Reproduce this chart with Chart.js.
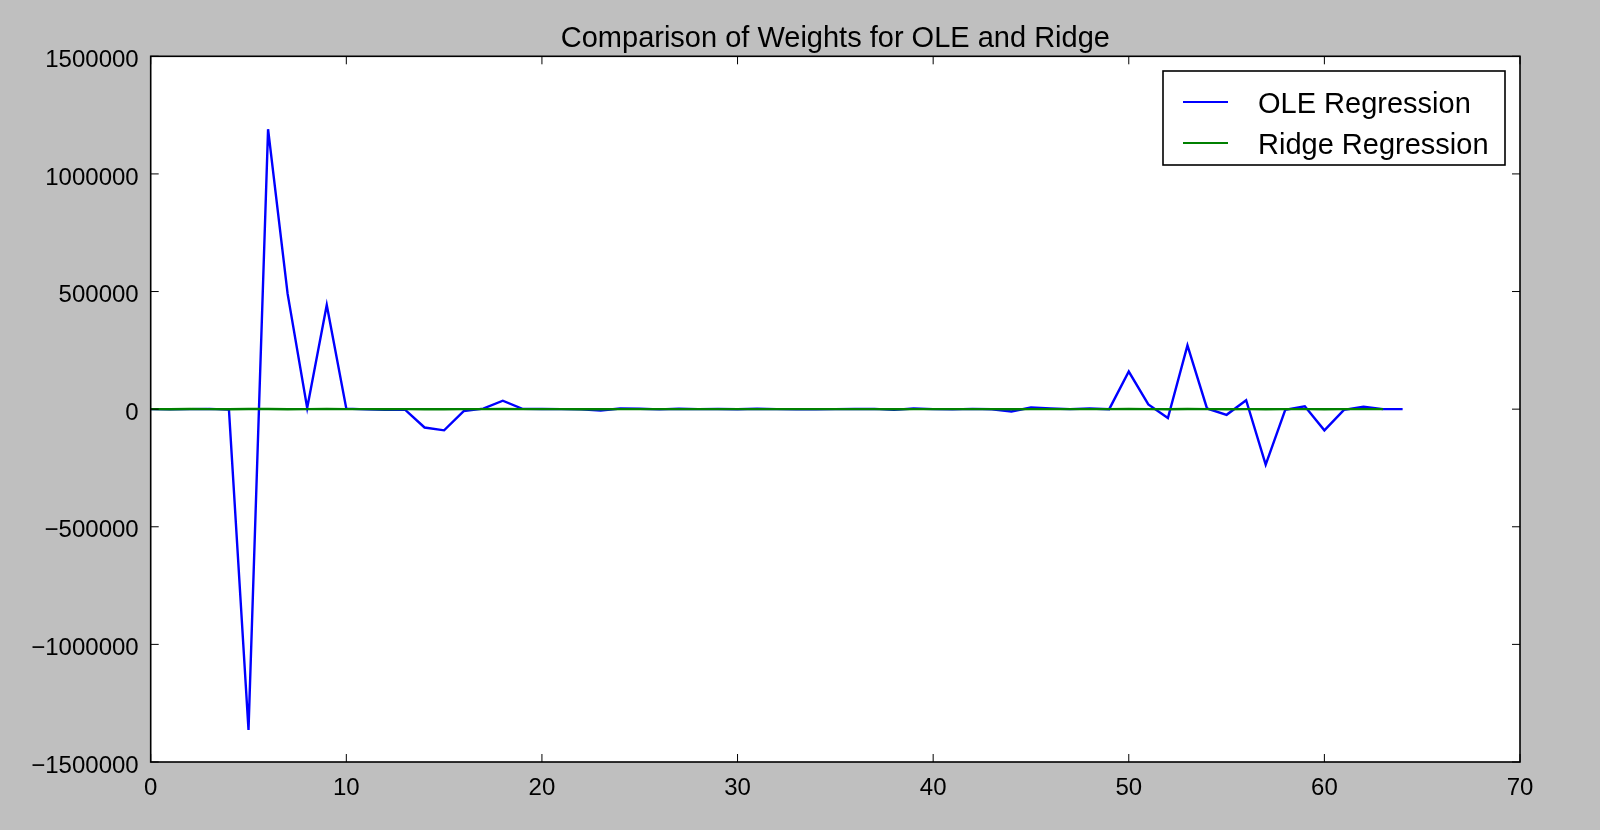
<!DOCTYPE html>
<html>
<head>
<meta charset="utf-8">
<title>Comparison of Weights for OLE and Ridge</title>
<script src="https://cdn.jsdelivr.net/npm/chart.js@4.4.1/dist/chart.umd.min.js"></script>
<style>
  html, body { margin: 0; padding: 0; background: #bfbfbf; }
  #wrap { width: 1600px; height: 830px; position: relative; }
</style>
</head>
<body>
<div id="wrap"><canvas id="myChart"></canvas></div>
<script>
// weights, index 0..64 (OLE) and 0..63 (Ridge)
const oleWeights = [
  0, -1000, 0, 1000, -2000, -1364000, 1190000, 490000, 5000, 443000,
  2000, -1000, -3000, -2000, -78000, -90000, -8000, 2000, 36000, 1000,
  500, 0, -1000, -6000, 3000, 2000, -1000, 2000, 0, 500,
  -500, 1500, 0, -1000, -500, 0, 500, 1000, -3000, 3000,
  0, -1000, 1000, -500, -10000, 7000, 3000, 0, 3000, 0,
  160000, 20000, -38000, 271000, 3000, -24000, 38000, -236000, -3000, 12000,
  -90000, -3000, 10000, 0, 0
];
const ridgeWeights = [
  200, -300, 400, 100, -500, 800, 600, -200, 300, 500,
  -100, 200, -300, 100, -400, -600, 200, 300, 400, -100,
  100, 0, -200, -300, 200, 100, -100, 200, 0, 100,
  -100, 200, 0, -100, 0, 100, 100, 200, -200, 200,
  0, -100, 100, 0, -300, 300, 100, 0, 200, 0,
  400, 200, -300, 500, 100, -200, 300, -400, -100, 200,
  -300, -100, 200, 0
];
const seriesLabels = ['OLE Regression', 'Ridge Regression'];
const xTicks = [0, 10, 20, 30, 40, 50, 60, 70];
const yTicks = [-1500000, -1000000, -500000, 0, 500000, 1000000, 1500000];

const FONT = '"Liberation Sans", Arial, Helvetica, sans-serif';

function toPoints(arr) {
  return arr.map((v, i) => ({ x: i, y: v }));
}

function fmt(v) {
  return v < 0 ? '\u2212' + Math.abs(v) : String(v);
}

// grey figure, white axes, black frame, inward ticks and the boxed legend
const mplLook = {
  id: 'mplLook',
  beforeDraw(chart) {
    const ctx = chart.ctx;
    const a = chart.chartArea;
    ctx.save();
    ctx.fillStyle = '#bfbfbf';
    ctx.fillRect(0, 0, chart.width, chart.height);
    ctx.fillStyle = '#ffffff';
    ctx.fillRect(a.left, a.top, a.right - a.left, a.bottom - a.top);
    ctx.restore();
  },
  afterDraw(chart) {
    const ctx = chart.ctx;
    const a = chart.chartArea;
    const xs = chart.scales.x;
    const ys = chart.scales.y;
    const len = 8;
    ctx.save();
    ctx.strokeStyle = '#000';
    ctx.lineWidth = 1;
    ctx.beginPath();
    xTicks.forEach(t => {
      const px = xs.getPixelForValue(t);
      ctx.moveTo(px, a.bottom); ctx.lineTo(px, a.bottom - len);
      ctx.moveTo(px, a.top); ctx.lineTo(px, a.top + len);
    });
    yTicks.forEach(t => {
      const py = ys.getPixelForValue(t);
      ctx.moveTo(a.left, py); ctx.lineTo(a.left + len, py);
      ctx.moveTo(a.right, py); ctx.lineTo(a.right - len, py);
    });
    ctx.stroke();
    ctx.lineWidth = 1.6;
    ctx.strokeRect(a.left, a.top, a.right - a.left, a.bottom - a.top);

    // legend
    const bx = 1163, by = 71, bw = 342, bh = 94;
    ctx.fillStyle = '#fff';
    ctx.fillRect(bx, by, bw, bh);
    ctx.lineWidth = 1.6;
    ctx.strokeRect(bx, by, bw, bh);
    ctx.font = '29px ' + FONT;
    ctx.textBaseline = 'middle';
    ctx.textAlign = 'left';
    chart.data.datasets.forEach((ds, i) => {
      const yy = by + 31 + i * 41;
      ctx.strokeStyle = ds.borderColor;
      ctx.lineWidth = 2;
      ctx.beginPath();
      ctx.moveTo(bx + 20, yy);
      ctx.lineTo(bx + 65, yy);
      ctx.stroke();
      ctx.fillStyle = '#000';
      ctx.fillText(ds.label, bx + 95, yy + 3);
    });
    ctx.restore();
  }
};

const ctx = document.getElementById('myChart').getContext('2d');
const myChart = new Chart(ctx, {
  type: 'line',
  data: {
    datasets: [{
      label: seriesLabels[0],
      data: toPoints(oleWeights),
      borderColor: '#0000ff',
      borderWidth: 2.4,
      pointRadius: 0,
      tension: 0,
      fill: false,
      order: 1
    }, {
      label: seriesLabels[1],
      data: toPoints(ridgeWeights),
      borderColor: '#008000',
      borderWidth: 2.4,
      pointRadius: 0,
      tension: 0,
      fill: false,
      order: 0
    }]
  },
  options: {
    responsive: true,
    maintainAspectRatio: false,
    animation: false,
    layout: { padding: { left: 0, right: 80, top: 0, bottom: 0 } },
    plugins: {
      legend: { display: false },
      tooltip: { enabled: false },
      title: {
        display: true,
        text: 'Comparison of Weights for OLE and Ridge',
        fullSize: false,
        color: '#000',
        font: { family: FONT, size: 29, weight: 'normal', lineHeight: 1.2 },
        padding: { top: 21.5, bottom: 0 }
      }
    },
    scales: {
      x: {
        type: 'linear',
        min: 0,
        max: 70,
        afterBuildTicks(scale) { scale.ticks = xTicks.map(v => ({ value: v })); },
        afterFit(scale) { scale.height = 68; },
        grid: { display: false, drawTicks: false },
        border: { display: false },
        ticks: {
          color: '#000',
          padding: 12,
          maxRotation: 0,
          font: { family: FONT, size: 24 }
        }
      },
      y: {
        type: 'linear',
        min: -1500000,
        max: 1500000,
        afterBuildTicks(scale) { scale.ticks = yTicks.map(v => ({ value: v })); },
        afterFit(scale) { scale.width = 150.7; },
        grid: { display: false, drawTicks: false },
        border: { display: false },
        ticks: {
          color: '#000',
          padding: 12,
          labelOffset: 4,
          font: { family: FONT, size: 24 },
          callback: v => fmt(v)
        }
      }
    }
  },
  plugins: [mplLook]
});
</script>
</body>
</html>
